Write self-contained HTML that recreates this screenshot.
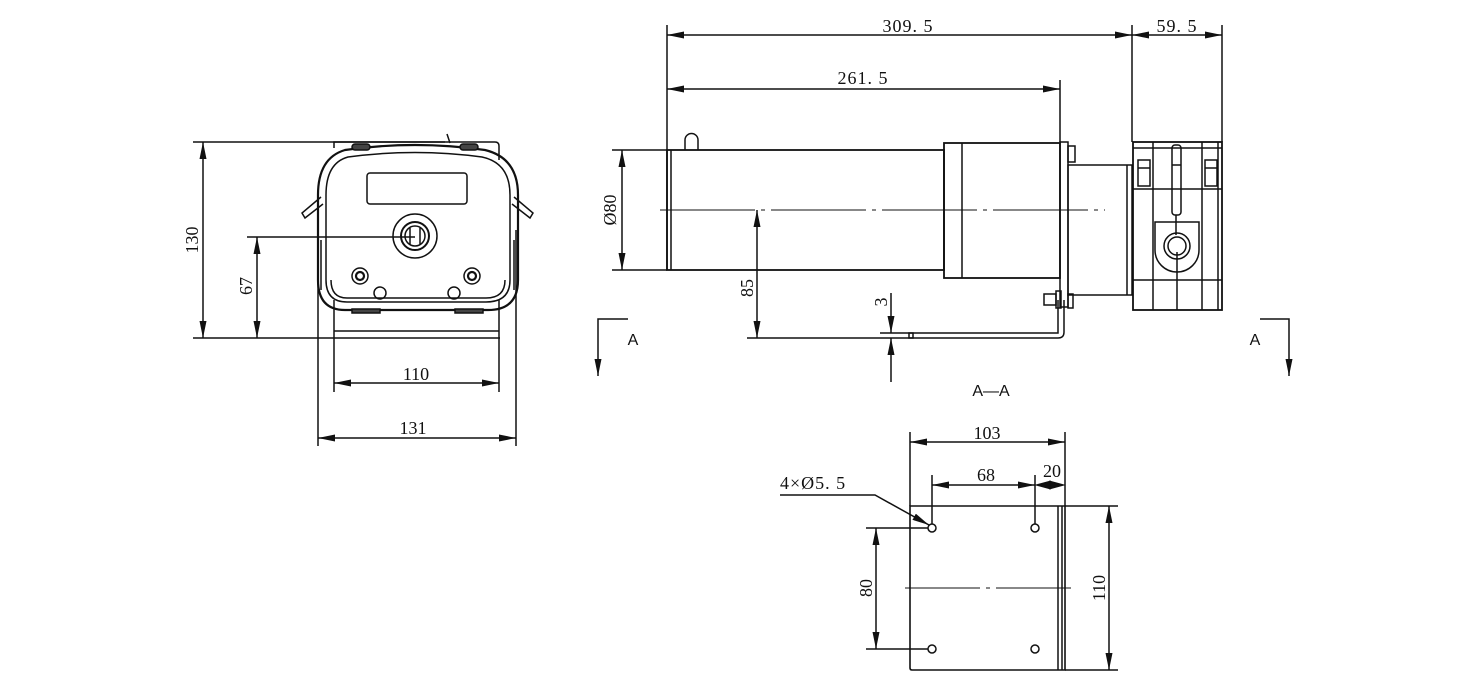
<!DOCTYPE html>
<html><head><meta charset="utf-8"><style>
html,body{margin:0;padding:0;background:#fff;}
svg{display:block;}
text{font-family:"Liberation Serif",serif;font-size:18px;fill:#111;}
</style></head><body>
<svg width="1484" height="700" viewBox="0 0 1484 700" xmlns="http://www.w3.org/2000/svg">
<defs>
<marker id="a" viewBox="0 0 17 7" refX="17" refY="3.5" markerWidth="17" markerHeight="7" markerUnits="userSpaceOnUse" orient="auto-start-reverse">
<polygon points="0,0 17,3.5 0,7" fill="#111"/></marker>
</defs>
<g stroke="#111" stroke-width="1.5" fill="none">
<!-- FRONT VIEW -->
<line x1="193" y1="142" x2="445" y2="142"/>
<line x1="193" y1="338" x2="500" y2="338"/>
<line x1="247" y1="237" x2="415" y2="237"/>
<line x1="203" y1="142" x2="203" y2="338" marker-start="url(#a)" marker-end="url(#a)"/>
<line x1="257" y1="237" x2="257" y2="338" marker-start="url(#a)" marker-end="url(#a)"/>
<path d="M334,148 V142 H495 Q499,142 499,146 V160"/>
<line x1="334" y1="300" x2="334" y2="392"/>
<line x1="499" y1="300" x2="499" y2="392"/>
<line x1="334" y1="331" x2="499" y2="331"/>
<line x1="318" y1="230" x2="318" y2="446"/>
<line x1="516" y1="230" x2="516" y2="446"/>
<line x1="334" y1="383" x2="499" y2="383" marker-start="url(#a)" marker-end="url(#a)"/>
<line x1="318" y1="438" x2="516" y2="438" marker-start="url(#a)" marker-end="url(#a)"/>
<path d="M345,150 Q415,140 485,150 Q518,158 518,195 V280 Q518,310 488,310 H345 Q318,310 318,280 V195 Q318,158 345,150 Z" stroke-width="2.2"/>
<path d="M348,157 Q415,148 482,157 Q510,163 510,195 V280 Q510,302 486,302 H347 Q326,302 326,280 V195 Q326,163 348,157 Z"/>
<path d="M331,280 Q331,298 347,298 H486 Q505,298 505,280"/>
<rect x="367" y="173" width="100" height="31" rx="3"/>
<circle cx="415" cy="236" r="22"/>
<circle cx="415" cy="236" r="14" stroke-width="2"/>
<circle cx="415" cy="236" r="10"/>
<line x1="410" y1="228" x2="410" y2="244"/><line x1="420" y1="228" x2="420" y2="244"/>
<circle cx="360" cy="276" r="8"/><circle cx="360" cy="276" r="4" stroke-width="2.2"/>
<circle cx="472" cy="276" r="8"/><circle cx="472" cy="276" r="4" stroke-width="2.2"/>
<circle cx="380" cy="293" r="6"/><circle cx="454" cy="293" r="6"/>
<path d="M321,197 L302,213 L305,218 L323,204"/>
<path d="M514,197 L533,213 L530,218 L512,204"/>
<rect x="352" y="144" width="18" height="6" rx="3" fill="#444"/>
<rect x="460" y="144" width="18" height="6" rx="3" fill="#444"/>
<rect x="352" y="309" width="28" height="4" fill="#444"/>
<rect x="455" y="309" width="28" height="4" fill="#444"/>
<line x1="447" y1="134" x2="450" y2="143"/>
<line x1="321" y1="240" x2="321" y2="290"/><line x1="514" y1="240" x2="514" y2="290"/>

<!-- SIDE VIEW -->
<line x1="667" y1="25" x2="667" y2="270"/>
<line x1="1132" y1="25" x2="1132" y2="142"/>
<line x1="1222" y1="25" x2="1222" y2="142"/>
<line x1="1060" y1="80" x2="1060" y2="142"/>
<line x1="667" y1="35" x2="1132" y2="35" marker-start="url(#a)" marker-end="url(#a)"/>
<line x1="1132" y1="35" x2="1222" y2="35" marker-start="url(#a)" marker-end="url(#a)"/>
<line x1="667" y1="89" x2="1060" y2="89" marker-start="url(#a)" marker-end="url(#a)"/>
<line x1="612" y1="150" x2="667" y2="150"/>
<line x1="612" y1="270" x2="667" y2="270"/>
<line x1="622" y1="150" x2="622" y2="270" marker-start="url(#a)" marker-end="url(#a)"/>
<rect x="667" y="150" width="277" height="120" stroke-width="1.8"/>
<line x1="671" y1="150" x2="671" y2="270"/>
<path d="M685,150 V140 A6.5,6.5 0 0 1 698,140 V150"/>
<line x1="660" y1="210" x2="1105" y2="210" stroke-width="0.9" stroke-dasharray="95,6,4,6"/>
<line x1="757" y1="210" x2="757" y2="338" marker-start="url(#a)" marker-end="url(#a)"/>
<rect x="944" y="143" width="116" height="135" stroke-width="1.8"/>
<line x1="962" y1="143" x2="962" y2="278"/>
<rect x="1060" y="142" width="8" height="165"/>
<rect x="1068" y="146" width="7" height="16"/>
<rect x="1068" y="294" width="5" height="14"/>
<rect x="1044" y="294" width="12" height="11"/><rect x="1056" y="291" width="5" height="17"/>
<rect x="1068" y="165" width="64" height="130"/>
<line x1="1127" y1="165" x2="1127" y2="295"/>
<rect x="1133" y="142" width="89" height="168" stroke-width="1.8"/>
<line x1="1153" y1="142" x2="1153" y2="310"/>
<line x1="1202" y1="142" x2="1202" y2="310"/>
<line x1="1218" y1="142" x2="1218" y2="310"/>
<line x1="1133" y1="148" x2="1222" y2="148"/>
<line x1="1133" y1="189" x2="1222" y2="189"/>
<line x1="1133" y1="280" x2="1222" y2="280"/>
<rect x="1138" y="160" width="12" height="26"/><rect x="1205" y="160" width="12" height="26"/>
<line x1="1138" y1="168" x2="1150" y2="168"/><line x1="1205" y1="168" x2="1217" y2="168"/>
<rect x="1172" y="145" width="9" height="70" rx="3"/>
<line x1="1172" y1="165" x2="1181" y2="165"/>
<line x1="1176" y1="215" x2="1176" y2="235"/>
<path d="M1155,222 V250 A22,22 0 0 0 1199,250 V222 Z"/>
<circle cx="1177" cy="246" r="13"/><circle cx="1177" cy="246" r="9"/>
<line x1="1177" y1="252" x2="1177" y2="310"/>
<path d="M892,333 H1058 V300"/>
<path d="M892,338 H1058 Q1064,338 1064,332 V300"/>
<line x1="747" y1="338" x2="892" y2="338"/>
<line x1="880" y1="333" x2="892" y2="333"/>
<line x1="891" y1="293" x2="891" y2="333" marker-end="url(#a)"/>
<line x1="891" y1="382" x2="891" y2="338" marker-end="url(#a)"/>
<rect x="909" y="333" width="4" height="5"/>
<path d="M628,319 H598 V376" marker-end="url(#a)"/>
<path d="M1260,319 H1289 V376" marker-end="url(#a)"/>

<!-- BOTTOM VIEW -->
<path d="M910,506 H1065 V670 H912 Q910,670 910,668 Z" stroke-width="1.6"/>
<line x1="1058" y1="506" x2="1058" y2="670"/><line x1="1062" y1="506" x2="1062" y2="670"/>
<line x1="1065" y1="506" x2="1118" y2="506"/><line x1="1065" y1="670" x2="1118" y2="670"/>
<line x1="1109" y1="506" x2="1109" y2="670" marker-start="url(#a)" marker-end="url(#a)"/>
<line x1="910" y1="432" x2="910" y2="506"/><line x1="1065" y1="432" x2="1065" y2="506"/>
<line x1="910" y1="442" x2="1065" y2="442" marker-start="url(#a)" marker-end="url(#a)"/>
<line x1="932" y1="475" x2="932" y2="524"/><line x1="1035" y1="475" x2="1035" y2="524"/>
<line x1="932" y1="485" x2="1035" y2="485" marker-start="url(#a)" marker-end="url(#a)"/>
<line x1="1035" y1="485" x2="1065" y2="485" stroke-width="0.9"/>
<polygon points="1037,485 1050,481.5 1050,488.5" fill="#111"/>
<polygon points="1063,485 1050,481.5 1050,488.5" fill="#111"/>
<circle cx="932" cy="528" r="4"/><circle cx="1035" cy="528" r="4"/>
<circle cx="932" cy="649" r="4"/><circle cx="1035" cy="649" r="4"/>
<line x1="866" y1="528" x2="928" y2="528"/><line x1="866" y1="649" x2="928" y2="649"/>
<line x1="876" y1="528" x2="876" y2="649" marker-start="url(#a)" marker-end="url(#a)"/>
<line x1="905" y1="588" x2="1075" y2="588" stroke-width="0.9" stroke-dasharray="75,6,4,6"/>
<path d="M780,495 H875 L929,525" marker-end="url(#a)"/>
</g>
<text transform="translate(198,240) rotate(-90)" text-anchor="middle">130</text>
<text transform="translate(252,286) rotate(-90)" text-anchor="middle">67</text>
<text x="416" y="380" text-anchor="middle">110</text>
<text x="413" y="434" text-anchor="middle">131</text>
<text x="908" y="32" text-anchor="middle" letter-spacing="1">309. 5</text>
<text x="1177" y="32" text-anchor="middle" letter-spacing="1">59. 5</text>
<text x="863" y="84" text-anchor="middle" letter-spacing="1">261. 5</text>
<text transform="translate(616,210) rotate(-90)" text-anchor="middle">Ø80</text>
<text transform="translate(753,288) rotate(-90)" text-anchor="middle">85</text>
<text transform="translate(887,302) rotate(-90)" text-anchor="middle">3</text>
<text x="633" y="345" text-anchor="middle" style="font-family:'Liberation Sans',sans-serif;font-size:16px">A</text>
<text x="1255" y="345" text-anchor="middle" style="font-family:'Liberation Sans',sans-serif;font-size:16px">A</text>
<text x="991" y="396" text-anchor="middle" style="font-family:'Liberation Sans',sans-serif;font-size:16px">A—A</text>
<text x="987" y="439" text-anchor="middle">103</text>
<text x="986" y="481" text-anchor="middle">68</text>
<text x="1052" y="477" text-anchor="middle">20</text>
<text x="780" y="489" letter-spacing="1">4×Ø5. 5</text>
<text transform="translate(872,588) rotate(-90)" text-anchor="middle">80</text>
<text transform="translate(1105,588) rotate(-90)" text-anchor="middle">110</text>
</svg>
</body></html>
